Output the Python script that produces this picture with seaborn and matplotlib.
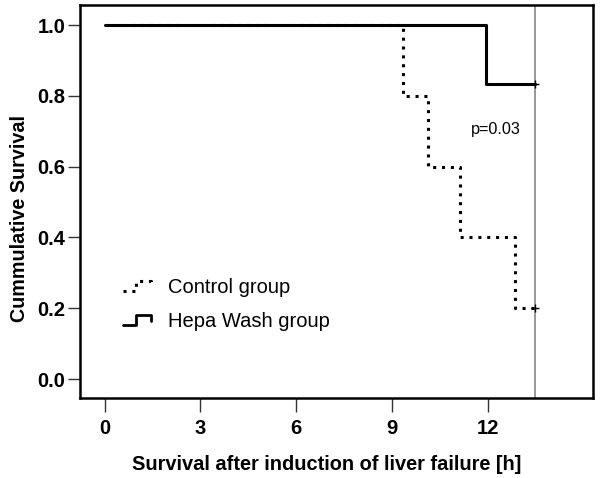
import numpy as np
import pandas as pd
import seaborn as sns
import matplotlib
matplotlib.use('Agg')
import matplotlib.pyplot as plt
from matplotlib.legend_handler import HandlerBase
from matplotlib.lines import Line2D

# Kaplan-Meier step data
control_time = [0, 9.35, 10.15, 11.15, 12.85, 13.5]
control_surv = [1.0, 0.8, 0.6, 0.4, 0.2, 0.2]
hepa_time = [0, 11.95, 13.5]
hepa_surv = [1.0, 0.833, 0.833]
groups = ["Control group", "Hepa Wash group"]
censor_time = 13.5
p_text = "p=0.03"
xticks = [0, 3, 6, 9, 12]
yticks = [0.0, 0.2, 0.4, 0.6, 0.8, 1.0]

df = pd.concat([
    pd.DataFrame({"time": control_time, "surv": control_surv, "group": groups[0]}),
    pd.DataFrame({"time": hepa_time, "surv": hepa_surv, "group": groups[1]}),
])

sns.set_theme(style='white')
plt.rcParams['font.family'] = ['Liberation Sans', 'DejaVu Sans']
plt.rcParams['text.color'] = 'black'
plt.rcParams['axes.labelcolor'] = 'black'
plt.rcParams['xtick.color'] = 'black'
plt.rcParams['ytick.color'] = 'black'

fig = plt.figure(figsize=(6, 4.78), dpi=100)
ax = fig.add_axes([0.133, 0.167, 0.855, 0.822])

sns.lineplot(data=df, x="time", y="surv", hue="group", style="group",
             palette={groups[0]: 'black', groups[1]: 'black'},
             dashes={groups[0]: (1, 1.9), groups[1]: ""},
             drawstyle='steps-post', estimator=None, sort=False,
             linewidth=2.2, legend=False, ax=ax)
for ln in ax.get_lines():
    ln.set_dash_capstyle('butt')

# censored marks
ax.plot([control_time[-1], hepa_time[-1]], [control_surv[-1], hepa_surv[-1]],
        linestyle='none', marker='+', color='black', markersize=6, markeredgewidth=1)

ax.axvline(censor_time, color='#909090', linewidth=1.3, zorder=0)
ax.text(12.27, 0.706, p_text, fontsize=11.7, ha='center', va='center')

ax.set_xlim(-0.78, 15.3)
ax.set_ylim(-0.054, 1.056)
ax.set_xticks(xticks)
ax.set_yticks(yticks)
ax.set_xticklabels([str(t) for t in xticks], fontsize=14.5, fontweight='bold')
ax.set_yticklabels([f"{t:.1f}" for t in yticks], fontsize=14.5, fontweight='bold')
ax.tick_params(axis='x', direction='out', length=10, width=1, color='#333333',
               bottom=True, pad=5)
ax.tick_params(axis='y', direction='out', length=8.5, width=1, color='#333333',
               left=True, pad=2)
for s in ax.spines.values():
    s.set_color('black')
    s.set_linewidth(1.8)

ax.set_xlabel("Survival after induction of liver failure [h]", fontsize=14.4,
              fontweight='bold', labelpad=12)
ax.set_ylabel("Cummulative Survival", fontsize=14.2, fontweight='bold', labelpad=6)
ax.xaxis.label.set_x(0.482)
ax.yaxis.label.set_y(0.458)


class StepHandler(HandlerBase):
    def __init__(self, ls):
        super().__init__()
        self.ls = ls

    def create_artists(self, legend, orig_handle, xdescent, ydescent, width,
                       height, fontsize, trans):
        xs = np.array([0, 0.4, 0.4, 0.85, 0.85]) * width - xdescent
        ys = np.array([0.2, 0.2, 0.9, 0.9, 0.45]) * height - ydescent
        ln = Line2D(xs, ys, color='black', linewidth=orig_handle.get_linewidth(),
                    linestyle=self.ls)
        ln.set_dash_capstyle('butt')
        ln.set_transform(trans)
        return [ln]


h1 = Line2D([], [], color='black', linewidth=2.2)
h2 = Line2D([], [], color='black', linewidth=2.0)
ax.legend([h1, h2], groups,
          handler_map={h1: StepHandler((0, (1, 1.9))), h2: StepHandler('-')},
          loc='upper left', bbox_to_anchor=(0.085, 0.305), frameon=False,
          fontsize=14.5, borderpad=0, borderaxespad=0, handlelength=1.6,
          handletextpad=0.6, labelspacing=0.75)

fig.savefig("out.png", dpi=100)
